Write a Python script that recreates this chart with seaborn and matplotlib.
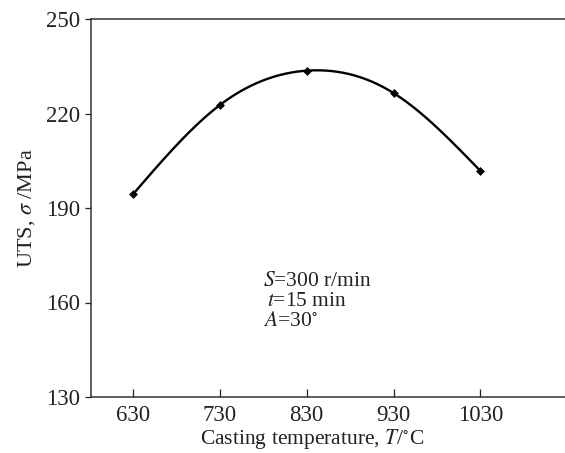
import numpy as np
import pandas as pd
import matplotlib
matplotlib.use("Agg")
import matplotlib.pyplot as plt
import seaborn as sns

temps = [630, 730, 830, 930, 1030]
uts = [194.4, 222.7, 233.6, 226.5, 201.8]
xticks = [630, 730, 830, 930, 1030]
yticks = [130, 160, 190, 220, 250]

sns.set_theme(style="ticks")
plt.rcParams['font.family'] = ['Liberation Serif', 'DejaVu Serif']
plt.rcParams['mathtext.fontset'] = 'stix'

# natural cubic spline through the measured points (for smooth drawing)
def natural_spline(x, y, xs):
    x = np.asarray(x, float); y = np.asarray(y, float)
    n = len(x)
    h = np.diff(x)
    A = np.zeros((n, n)); b = np.zeros(n)
    A[0, 0] = 1; A[-1, -1] = 1
    for i in range(1, n - 1):
        A[i, i - 1] = h[i - 1]
        A[i, i] = 2 * (h[i - 1] + h[i])
        A[i, i + 1] = h[i]
        b[i] = 3 * ((y[i + 1] - y[i]) / h[i] - (y[i] - y[i - 1]) / h[i - 1])
    c = np.linalg.solve(A, b)
    out = np.empty_like(xs)
    for k, xv in enumerate(xs):
        i = min(max(np.searchsorted(x, xv) - 1, 0), n - 2)
        dx = xv - x[i]
        bi = (y[i + 1] - y[i]) / h[i] - h[i] * (2 * c[i] + c[i + 1]) / 3
        di = (c[i + 1] - c[i]) / (3 * h[i])
        out[k] = y[i] + bi * dx + c[i] * dx ** 2 + di * dx ** 3
    return out

xs = np.linspace(temps[0], temps[-1], 300)
curve = pd.DataFrame({"T": xs, "UTS": natural_spline(temps, uts, xs)})
pts = pd.DataFrame({"T": temps, "UTS": uts})

fig = plt.figure(figsize=(5.65, 4.53), dpi=100)
ax = fig.add_axes([91 / 565, 1 - 397 / 453, (568 - 91) / 565, (397 - 19) / 453])

sns.lineplot(data=curve, x="T", y="UTS", ax=ax, color="black", linewidth=1.7)
sns.scatterplot(data=pts, x="T", y="UTS", ax=ax, color="black", marker="D",
                s=16, edgecolor="black", linewidth=0.5, zorder=3)

ax.set_xlim(581.5, 1131)
ax.set_ylim(130, 250)
ax.set_xticks(xticks)
ax.set_yticks(yticks)
ax.tick_params(axis='x', direction='in', length=6, width=0.9, labelsize=16.5, pad=6, colors='#222')
ax.tick_params(axis='y', direction='out', length=4, width=0.9, labelsize=16.5, pad=4, colors='#222')
for s in ax.spines.values():
    s.set_color('#333')
    s.set_linewidth(1.1)

ax.set_xlabel(r"Casting temperature, $T$/$^{\circ}$C", fontsize=15.5, color='#222')
ax.set_ylabel(r"UTS, $\sigma$ /MPa", fontsize=16, color='#222')
ax.xaxis.set_label_coords((312 - 91) / 477, -0.08)
ax.yaxis.set_label_coords(-0.113, 0.5)

ax.text(780, 165.2, r"$S$=300 r/min", fontsize=15.5, color='#222')
ax.text(784.5, 158.8, r"$t$=15 min", fontsize=15.5, color='#222')
ax.text(780, 152.4, r"$A$=30$^{\circ}$", fontsize=15.5, color='#222')

fig.savefig("out.png", dpi=100)
